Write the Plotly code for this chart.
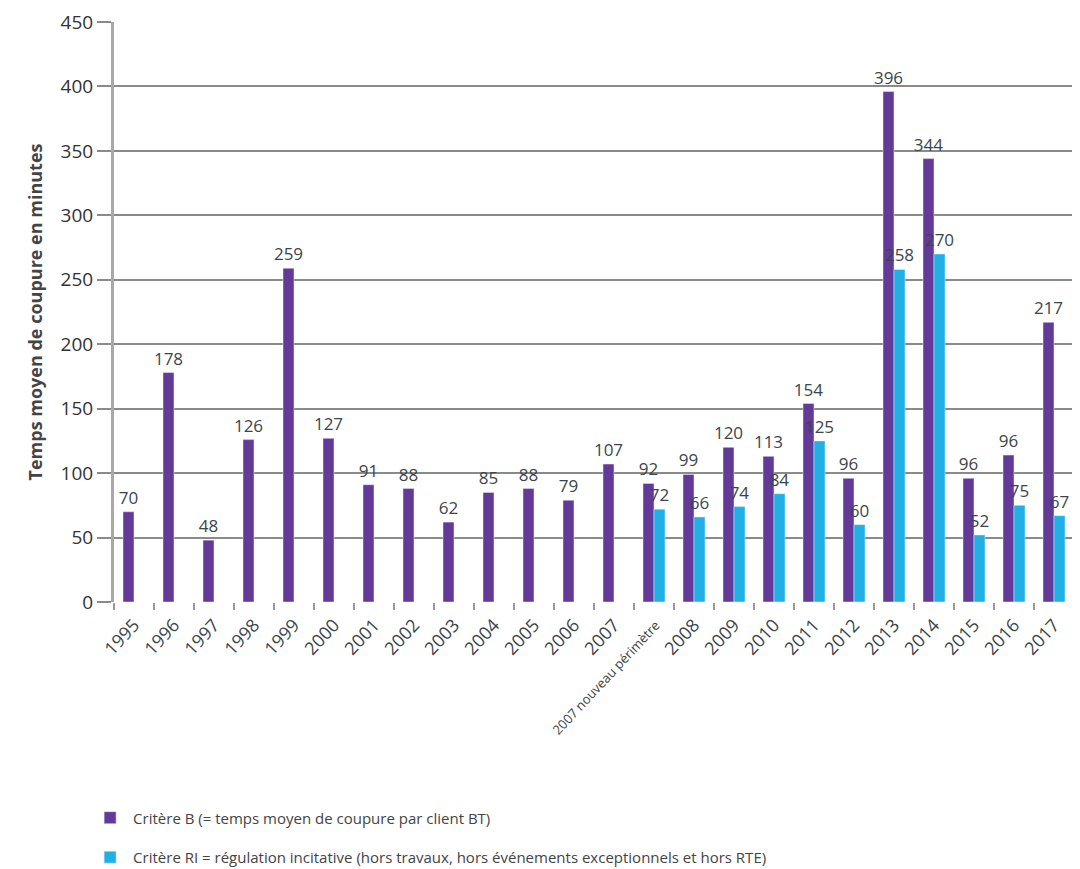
import plotly.graph_objects as go

categories = ["1995", "1996", "1997", "1998", "1999", "2000", "2001", "2002", "2003",
              "2004", "2005", "2006", "2007", "2007 nouveau périmètre", "2008", "2009",
              "2010", "2011", "2012", "2013", "2014", "2015", "2016", "2017"]
critere_b = [70, 178, 48, 126, 259, 127, 91, 88, 62, 85, 88, 79, 107, 92, 99, 120,
             113, 154, 96, 396, 344, 96, 114, 217]
critere_b_labels = ["70", "178", "48", "126", "259", "127", "91", "88", "62", "85", "88",
                    "79", "107", "92", "99", "120", "113", "154", "96", "396", "344",
                    "96", "96", "217"]
critere_ri = [None] * 13 + [72, 66, 74, 84, 125, 60, 258, 270, 52, 75, 67]
critere_ri_labels = [""] * 13 + ["72", "66", "74", "84", "125", "60", "258", "270",
                                 "52", "75", "67"]
y_ticks = [0, 50, 100, 150, 200, 250, 300, 350, 400, 450]

tick_text = [c if c != "2007 nouveau périmètre"
             else '<span style="font-size:13px">2007 nouveau périmètre</span>'
             for c in categories]

PURPLE = "#633a98"
CYAN = "#22b0e4"
FONT = "Open Sans"
TXT = "#3a464c"

fig = go.Figure()
fig.add_trace(go.Bar(
    x=categories, y=critere_b, name="Critère B (= temps moyen de coupure par client BT)",
    marker=dict(color=PURPLE), text=critere_b_labels, textposition="outside",
    constraintext="none",
    textfont=dict(size=17, color=TXT, family=FONT), cliponaxis=False,
    legendgroup="b",
))
fig.add_trace(go.Bar(
    x=categories, y=critere_ri,
    name="Critère RI = régulation incitative (hors travaux, hors événements exceptionnels et hors RTE)",
    marker=dict(color=CYAN), text=critere_ri_labels, textposition="outside",
    constraintext="none",
    textfont=dict(size=17, color=TXT, family=FONT), cliponaxis=False,
    legendgroup="ri",
))

fig.update_layout(
    width=1080, height=869,
    margin=dict(l=106, r=14, t=14, b=275, autoexpand=False),
    paper_bgcolor="white", plot_bgcolor="white",
    barmode="group", bargap=0.45, bargroupgap=0,
    font=dict(family=FONT, color=TXT),
    legend=dict(orientation="v", x=-0.028, xanchor="left",
                yref="container", y=0.087, yanchor="top",
                font=dict(size=15, color="#444"), traceorder="grouped",
                tracegroupgap=17, itemwidth=36),
    showlegend=True,
)
fig.update_xaxes(
    type="category", tickmode="array", tickvals=categories, ticktext=tick_text,
    tickangle=-47, tickfont=dict(size=18, color=TXT, family=FONT),
    ticks="outside", tickson="boundaries", ticklen=7, tickcolor="#999", tickwidth=2,
    ticklabelstandoff=8,
    showgrid=False, showline=False, zeroline=False, automargin=False,
)
fig.update_yaxes(
    range=[0, 450], tickmode="array", tickvals=y_ticks,
    tickfont=dict(size=19, color="#333", family=FONT),
    showgrid=True, gridcolor="#8a8a8a", gridwidth=2,
    showline=True, linecolor="#a8a8a8", linewidth=3,
    ticks="outside", ticklen=14, tickcolor="#8a8a8a", tickwidth=2,
    zeroline=False, automargin=False,
    title=dict(text="<b>Temps moyen de coupure en minutes</b>",
               font=dict(size=18, color="#444", family=FONT), standoff=14),
)

fig.write_html("out.html")
